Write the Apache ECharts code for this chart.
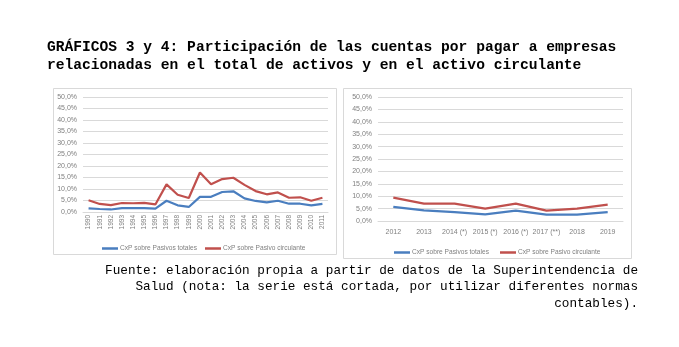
<!DOCTYPE html>
<html>
<head>
<meta charset="utf-8">
<script src="https://cdn.jsdelivr.net/npm/echarts@6/dist/echarts.min.js"></script>
<style>
  html, body { margin: 0; padding: 0; background: #fff; }
  #chart { width: 679px; height: 347px; }
</style>
</head>
<body>
<div id="chart"></div>
<script>
// Period 1: 1990-2011
const yearsA = ['1990','1991','1992','1993','1994','1995','1996','1997','1998','1999','2000',
                '2001','2002','2003','2004','2005','2006','2007','2008','2009','2010','2011'];
const totalesA = [1.6,1.3,1.1,1.7,1.7,1.7,1.5,4.9,2.9,2.2,6.6,6.6,8.7,9.0,5.9,4.8,4.2,4.9,3.6,3.6,2.9,3.5];
const circulanteA = [5.1,3.5,3.0,3.9,3.8,4.0,3.3,12.0,7.5,6.1,17.2,12.1,14.3,14.9,11.8,9.1,7.7,8.5,6.2,6.4,4.9,6.2];

// Period 2: 2012-2019
const yearsB = ['2012','2013','2014 (*)','2015 (*)','2016 (*)','2017 (**)','2018','2019'];
const totalesB = [5.7,4.3,3.6,2.7,4.2,2.6,2.6,3.6];
const circulanteB = [9.4,7.0,7.0,5.0,7.0,4.2,5.0,6.6];

const yTicks = [0, 5, 10, 15, 20, 25, 30, 35, 40, 45, 50];

const nameTot = 'CxP sobre Pasivos totales';
const nameCirc = 'CxP sobre Pasivo circulante';
const blue = '#4a7ebf';
const red = '#c0504d';
const labelFont = '"Liberation Sans", Arial, sans-serif';
const labelColor = '#808080';

const titleLines = [
  'GRÁFICOS 3 y 4: Participación de las cuentas por pagar a empresas',
  'relacionadas en el total de activos y en el activo circulante'
];
const sourceLines = [
  'Fuente: elaboración propia a partir de datos de la Superintendencia de',
  'Salud (nota: la serie está cortada, por utilizar diferentes normas',
  'contables).'
];

const pct = v => v.toFixed(1).replace('.', ',') + '%';

function yAxis(gridIndex) {
  return {
    type: 'value', gridIndex, min: yTicks[0], max: yTicks[yTicks.length - 1],
    interval: yTicks[1] - yTicks[0],
    axisLine: { show: false }, axisTick: { show: false },
    splitLine: { lineStyle: { color: '#d9d9d9', width: 1 } },
    axisLabel: { formatter: pct, fontSize: 7, color: labelColor, fontFamily: labelFont, margin: 6 }
  };
}

function legend(name, color, left, top) {
  return {
    data: [name], left, top, itemWidth: 16, itemHeight: 2.5, icon: 'rect', itemGap: 4,
    selectedMode: false,
    textStyle: { fontSize: 6.6, color: labelColor, fontFamily: labelFont, padding: [0, 0, 0, -3] },
    itemStyle: { color }
  };
}

function line(name, data, color, idx) {
  return {
    type: 'line', name, data, xAxisIndex: idx, yAxisIndex: idx,
    symbol: 'none', smooth: false, color,
    lineStyle: { color, width: 2.2 }
  };
}

const monoBold = 'bold 14.6px "Liberation Mono", "Courier New", monospace';
const mono = '12.7px "Liberation Mono", "Courier New", monospace';

const texts = [];
titleLines.forEach((t, i) => texts.push({
  type: 'text', x: 47, y: 40 + i * 18,
  style: { text: t, font: monoBold, fill: '#000', align: 'left', verticalAlign: 'top' }
}));
sourceLines.forEach((t, i) => texts.push({
  type: 'text', x: 638, y: 264 + i * 16.5,
  style: { text: t, font: mono, fill: '#000', align: 'right', verticalAlign: 'top' }
}));

const chart = echarts.init(document.getElementById('chart'), null, { renderer: 'canvas' });

chart.setOption({
  animation: false,
  backgroundColor: '#fff',
  grid: [
    { left: 83, right: 679 - 328, top: 97, bottom: 347 - 212 },
    { left: 378, right: 679 - 623, top: 97, bottom: 347 - 221 }
  ],
  xAxis: [
    {
      type: 'category', gridIndex: 0, data: yearsA, boundaryGap: true,
      axisLine: { lineStyle: { color: '#d9d9d9' } }, axisTick: { show: false },
      axisLabel: { rotate: 90, fontSize: 6.5, color: labelColor, fontFamily: labelFont, margin: 3, interval: 0 }
    },
    {
      type: 'category', gridIndex: 1, data: yearsB, boundaryGap: true,
      axisLine: { lineStyle: { color: '#d9d9d9' } }, axisTick: { show: false },
      axisLabel: { fontSize: 7, color: labelColor, fontFamily: labelFont, margin: 8, interval: 0 }
    }
  ],
  yAxis: [yAxis(0), yAxis(1)],
  legend: [
    legend(nameTot, blue, 97, 240),
    legend(nameCirc, red, 200, 240),
    legend(nameTot, blue, 389, 244),
    legend(nameCirc, red, 495, 244)
  ],
  series: [
    line(nameTot, totalesA, blue, 0),
    line(nameCirc, circulanteA, red, 0),
    line(nameTot, totalesB, blue, 1),
    line(nameCirc, circulanteB, red, 1)
  ],
  graphic: [
    { type: 'rect', z: -1, shape: { x: 53.5, y: 88.5, width: 283, height: 166 },
      style: { fill: 'none', stroke: '#d9d9d9', lineWidth: 1 } },
    { type: 'rect', z: -1, shape: { x: 343.5, y: 88.5, width: 288, height: 170 },
      style: { fill: 'none', stroke: '#d9d9d9', lineWidth: 1 } }
  ].concat(texts)
});
</script>
</body>
</html>
